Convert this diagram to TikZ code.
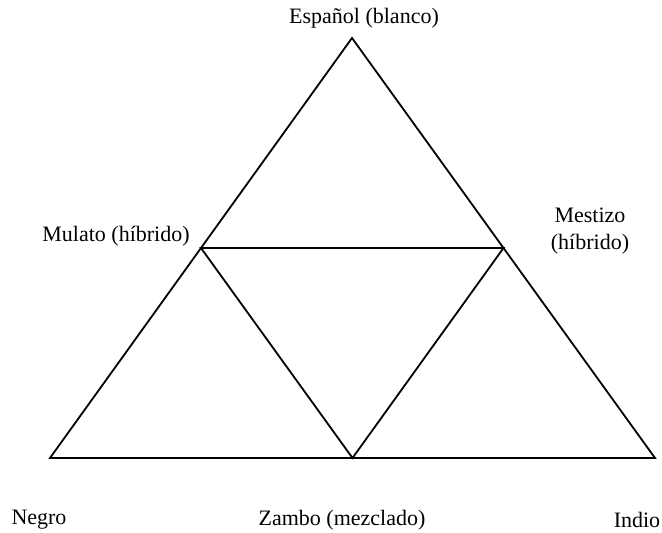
\documentclass[tikz,border=0pt]{standalone}
\usepackage{fontspec}
\setmainfont{Liberation Serif}
\usetikzlibrary{positioning,calc}

\tikzset{
  casta/.style={font=\fontsize{22}{27}\selectfont, inner sep=0pt},
  lado/.style={line width=1.8pt, line join=miter}
}

\begin{document}
\begin{tikzpicture}[x=1pt,y=-1pt]
      \useasboundingbox (0,0) rectangle (662,533);

      \coordinate (espanol) at (352,38);
      \coordinate (negro) at (50,458);
      \coordinate (indio) at (655,458);
      \coordinate (mulato) at ($(negro)!0.5!(espanol)$);
      \coordinate (mestizo) at ($(indio)!0.5!(espanol)$);
      \coordinate (zambo) at ($(negro)!0.5!(indio)$);

      \draw[lado] (espanol) -- (negro) -- (indio) -- cycle;
      \draw[lado] (mulato) -- (mestizo) -- (zambo) -- cycle;

      \node[casta] (tespanol) at (364,18) {Español (blanco)};
      \node[casta] (tmulato) at (116,236) {Mulato (híbrido)};
      \node[casta, align=center] (tmestizo) at (590,231) {Mestizo\\(híbrido)};
      \node[casta] (tnegro) at (39,520) {Negro};
      \node[casta] (tzambo) at (342,520) {Zambo (mezclado)};
      \node[casta] (tindio) at (637,520) {Indio};
    \end{tikzpicture}
\end{document}
